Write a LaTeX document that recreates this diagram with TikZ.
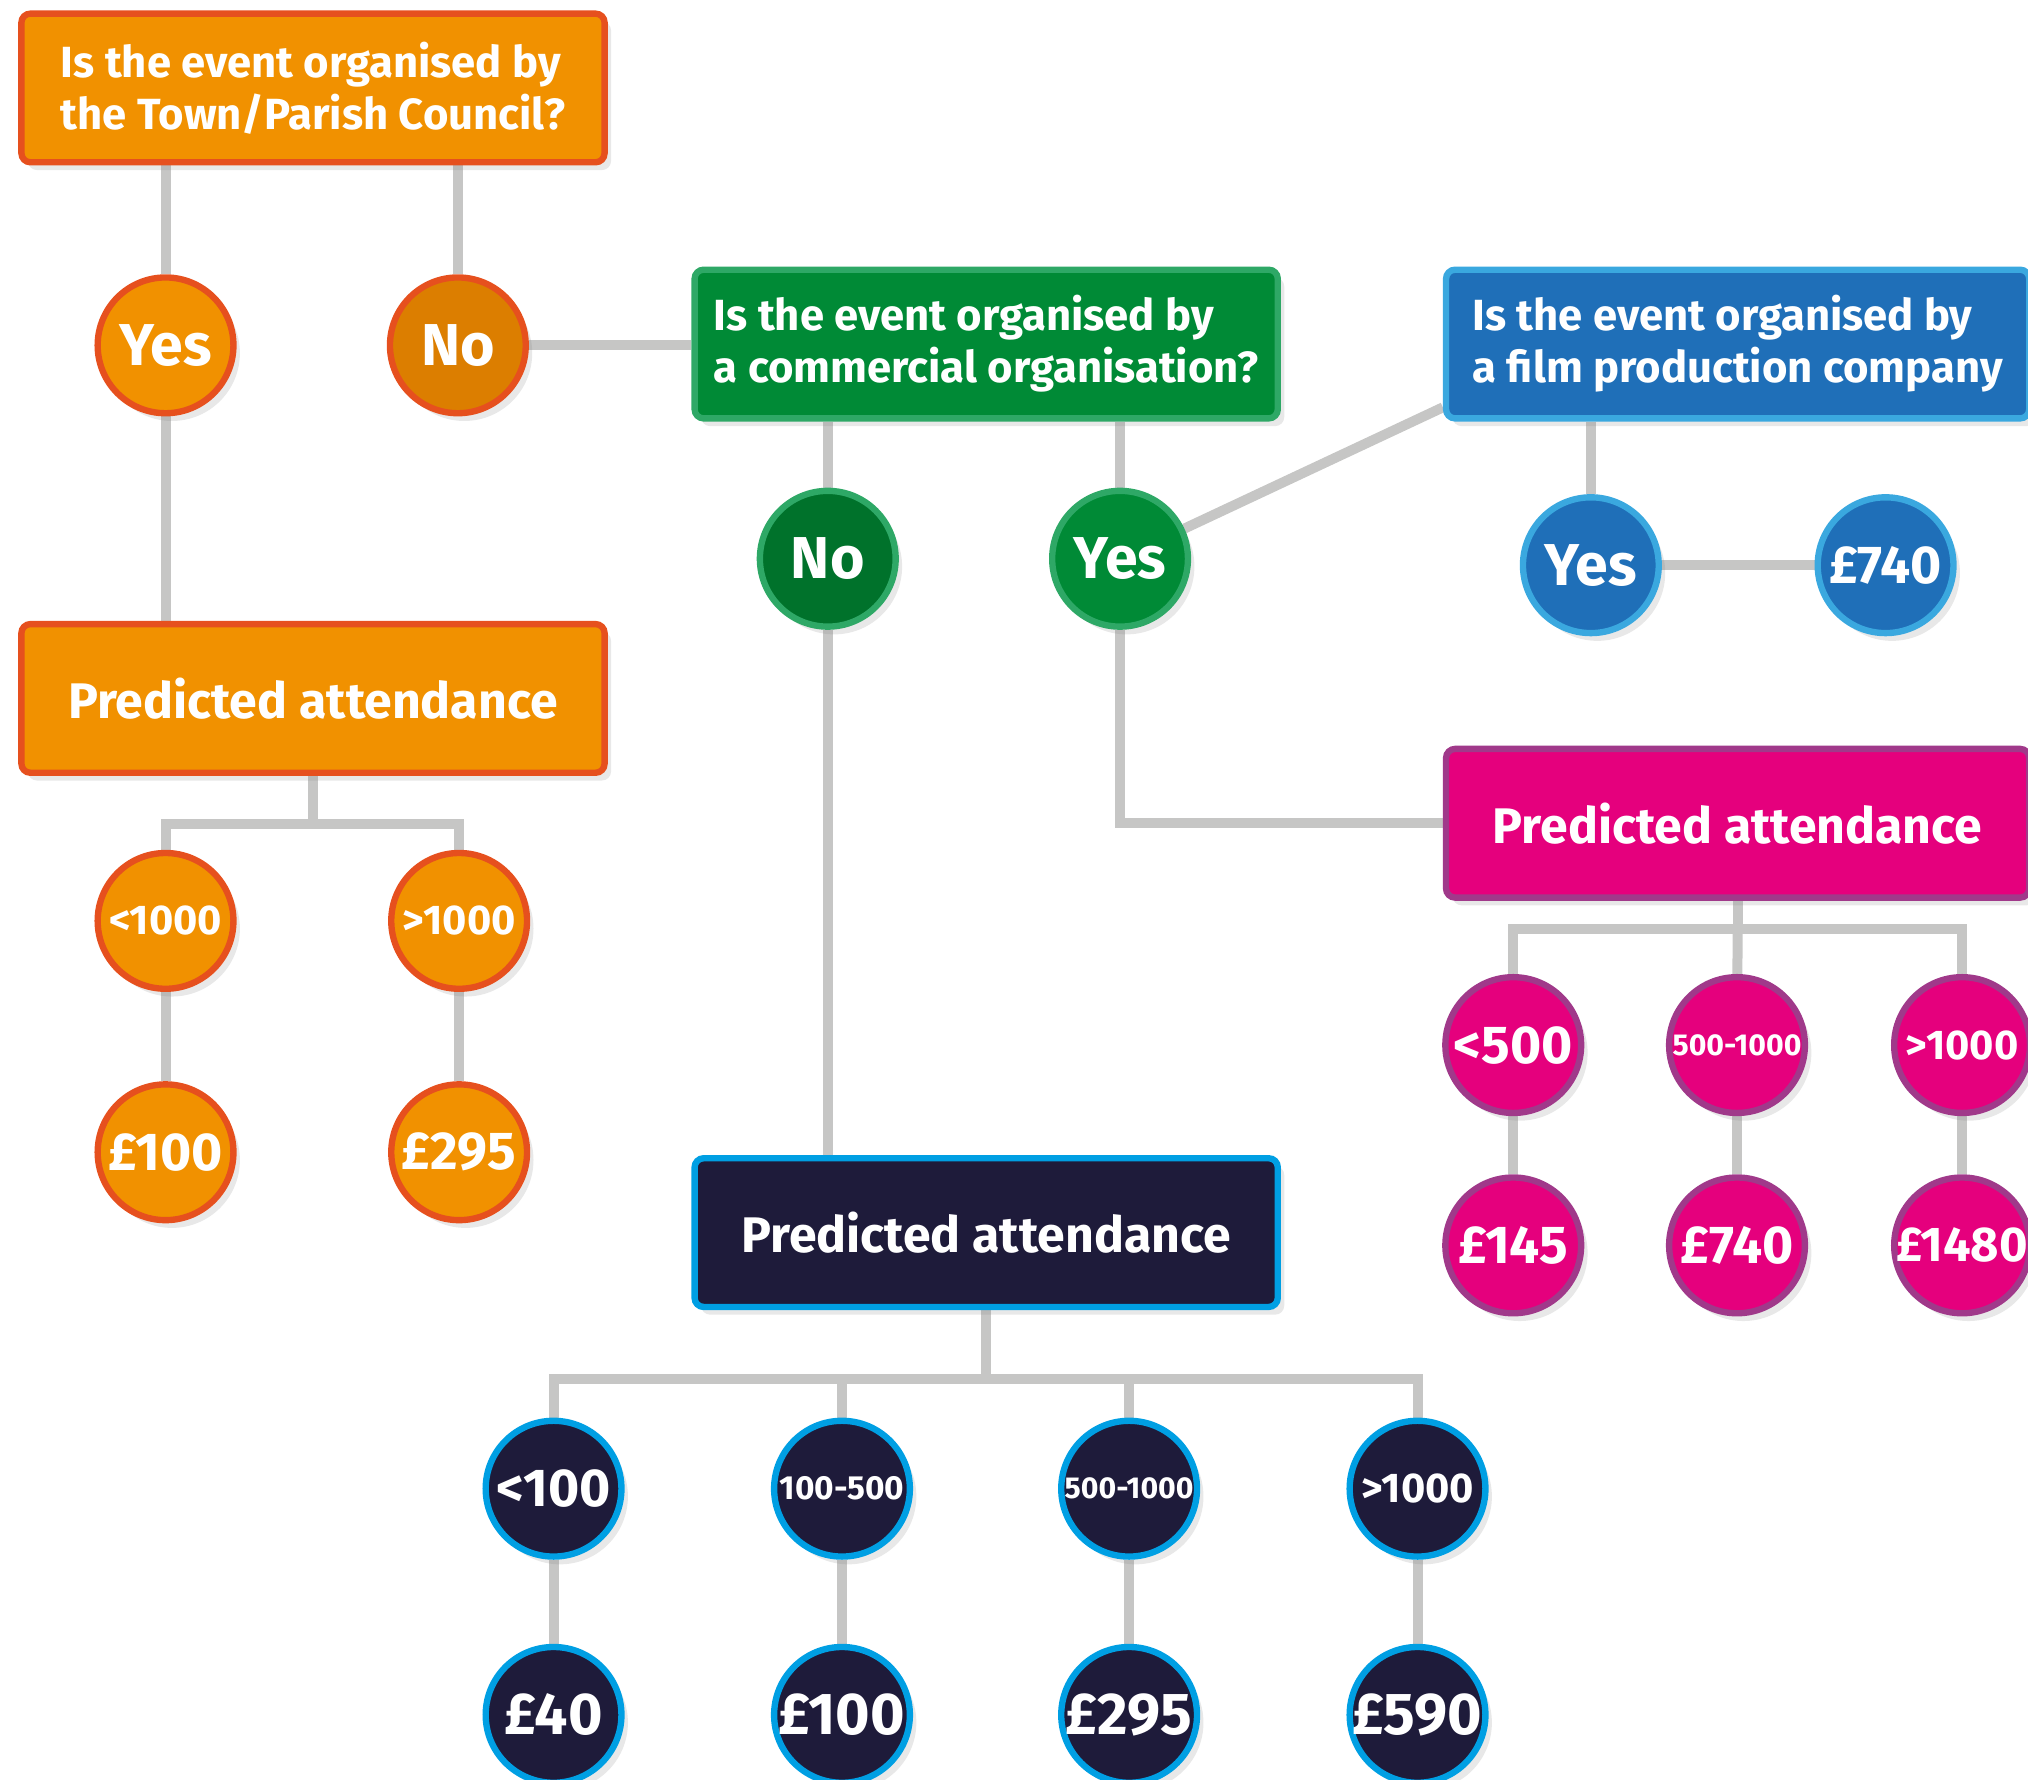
\documentclass[tikz,border=0pt]{standalone}
\usepackage{fontspec}
\setmainfont{Fira Sans}
\usetikzlibrary{positioning,shadows,backgrounds}
\definecolor{oo}{RGB}{241,145,0}
\definecolor{od}{RGB}{220,126,0}
\definecolor{ob}{RGB}{230,80,30}
\definecolor{gg}{RGB}{0,138,54}
\definecolor{gd}{RGB}{0,114,43}
\definecolor{gb}{RGB}{46,168,102}
\definecolor{bb}{RGB}{31,111,184}
\definecolor{bl}{RGB}{58,168,223}
\definecolor{pp}{RGB}{229,0,125}
\definecolor{pb}{RGB}{160,57,138}
\definecolor{dd}{RGB}{30,27,58}
\definecolor{db}{RGB}{0,159,227}
\definecolor{ln}{RGB}{198,198,197}

\tikzset{
  shade/.style={drop shadow={shadow xshift=0.1cm,shadow yshift=-0.12cm,opacity=0.18}},
  qbox/.style={rectangle, rounded corners=4pt, line width=2.8pt, minimum width=9.02cm, minimum height=2.3cm, align=left, text=white, font=\bfseries\fontsize{19.2}{22.8}\selectfont, shade},
  abox/.style={qbox, align=center, font=\bfseries\fontsize{22}{26}\selectfont},
  disc/.style={circle, minimum size=2.1cm, inner sep=-5pt, line width=2.8pt, text=white, shade},
  fyes/.style={font=\bfseries\fontsize{26}{28}\selectfont},
  fbig/.style={font=\bfseries\fontsize{26}{28}\selectfont},
  fpound/.style={font=\bfseries\fontsize{23.5}{25}\selectfont},
  fwide/.style={font=\bfseries\fontsize{21.5}{23}\selectfont},
  fmid/.style={font=\bfseries\fontsize{18.3}{20}\selectfont},
  fsmid/.style={font=\bfseries\fontsize{14.7}{16}\selectfont},
  fsmall/.style={font=\bfseries\fontsize{13.3}{15}\selectfont},
  orng/.style={draw=ob, fill=oo},
  grn/.style={draw=gb, fill=gg},
  blu/.style={draw=bl, fill=bb},
  pnk/.style={draw=pb, fill=pp},
  drk/.style={draw=db, fill=dd},
  link/.style={draw=ln, line width=4.4pt}
}

\begin{document}
\begin{tikzpicture}[x=0.02cm, y=-0.02cm]
\useasboundingbox (0,0) rectangle (1568,1376);

% town / parish council
\node[qbox, orng] (Q1) at (242,68) {Is the event organised by\\the Town/Parish Council?};
\node[disc, orng, fyes] (Y1) at (128,267) {Yes};
\node[disc, orng, fill=od, fyes] (N1) at (354,267) {No};
\node[abox, orng] (P1) at (242,540) {Predicted attendance};
\node[disc, orng, fmid] (L1) at (128,712) {<1000};
\node[disc, orng, fmid] (G1) at (355,712) {>1000};
\node[disc, orng, fpound, below=1.38cm of L1] (F1) {£100};
\node[disc, orng, fpound, below=1.38cm of G1] (F2) {£295};
\coordinate (b1) at ([yshift=-0.75cm]P1.south);

% commercial organisation
\node[qbox, grn] (Q2) at (762.5,266) {Is the event organised by\\a commercial organisation?};
\node[disc, grn, fill=gd, fyes] (N2) at (640,432) {No};
\node[disc, grn, fyes] (Y2) at (866,432) {Yes};

% film production company
\node[qbox, blu] (Q3) at (1343.5,266) {Is the event organised by\\a film production company};
\node[disc, blu, fyes] (Y3) at (1230,437) {Yes};
\node[disc, blu, fpound, right=2.36cm of Y3] (C3) {£740};

% commercial: attendance
\node[abox, pnk] (P2) at (1343.5,636.5) {Predicted attendance};
\node[disc, pnk, fpound] (K1) at (1170,808) {<500};
\node[disc, pnk, fsmall] (K2) at (1343,808) {500-1000};
\node[disc, pnk, fmid] (K3) at (1517,808) {>1000};
\node[disc, pnk, fpound, below=0.9cm of K1] (M1) {£145};
\node[disc, pnk, fpound, below=0.9cm of K2] (M2) {£740};
\node[disc, pnk, fwide, below=0.9cm of K3] (M3) {£1480};
\coordinate (b2) at ([yshift=-0.44cm]P2.south);

% non-commercial: attendance
\node[abox, drk] (P3) at (762.5,953) {Predicted attendance};
\node[disc, drk, fpound] (D1) at (428,1151) {<100};
\node[disc, drk, fsmid] (D2) at (651,1151) {100-500};
\node[disc, drk, fsmall] (D3) at (873,1151) {500-1000};
\node[disc, drk, fmid] (D4) at (1096,1151) {>1000};
\node[disc, drk, fbig, below=1.3cm of D1] (E1) {£40};
\node[disc, drk, fbig, below=1.3cm of D2] (E2) {£100};
\node[disc, drk, fbig, below=1.3cm of D3] (E3) {£295};
\node[disc, drk, fbig, below=1.3cm of D4] (E4) {£590};
\coordinate (b3) at ([yshift=-1.07cm]P3.south);

\begin{scope}[on background layer]
\draw[link] (Q1.south -| Y1) -- (Y1);
\draw[link] (Q1.south -| N1) -- (N1);
\draw[link] (N1) -- (N1 -| Q2.west);
\draw[link] (Y1) -- (Y1 |- P1.north);
\draw[link] (P1.south) -- (b1) -| (L1);
\draw[link] (b1) -| (G1);
\draw[link] (L1) -- (F1);
\draw[link] (G1) -- (F2);
\draw[link] (Q2.south -| N2) -- (N2);
\draw[link] (Q2.south -| Y2) -- (Y2);
\draw[link] (Y2) -- ([yshift=0.22cm]Q3.south west);
\draw[link] (Q3.south -| Y3) -- (Y3);
\draw[link] (Y3) -- (C3);
\draw[link] (Y2) |- (P2.west);
\draw[link] (P2.south) -- (b2) -| (K1);
\draw[link] (b2) -| (K3);
\draw[link] (b2) -- (K2);
\draw[link] (K1) -- (M1);
\draw[link] (K2) -- (M2);
\draw[link] (K3) -- (M3);
\draw[link] (N2) -- (N2 |- P3.north);
\draw[link] (P3.south) -- (b3) -| (D1);
\draw[link] (b3) -| (D4);
\draw[link] (b3 -| D2) -- (D2);
\draw[link] (b3 -| D3) -- (D3);
\draw[link] (D1) -- (E1);
\draw[link] (D2) -- (E2);
\draw[link] (D3) -- (E3);
\draw[link] (D4) -- (E4);
\end{scope}

\end{tikzpicture}
\end{document}
